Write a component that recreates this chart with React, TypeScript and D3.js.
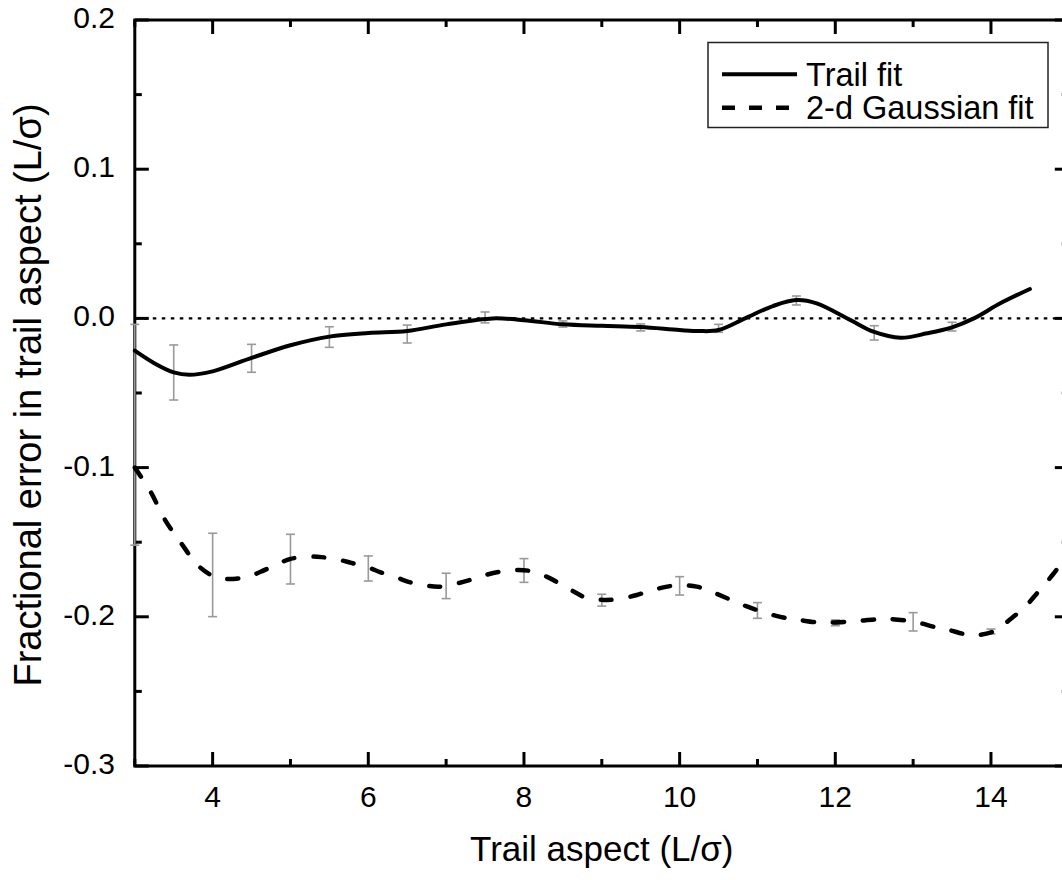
import React, { useRef, useEffect } from 'react'
import * as d3 from 'd3'

// Trail fit curve (solid)
const TRAIL_X = [3.0, 3.25, 3.5, 3.7, 4.0, 4.5, 5.0, 5.5, 6.0, 6.5, 7.0, 7.6, 8.0, 8.5, 9.0, 9.5, 10.0, 10.26, 10.5, 10.84, 11.2, 11.5, 11.76, 12.19, 12.49, 12.84, 13.18, 13.5, 13.78, 14.12, 14.5]
const TRAIL_Y = [-0.0216, -0.030, -0.0362, -0.0378, -0.0355, -0.0265, -0.018, -0.0122, -0.0098, -0.0085, -0.004, 0.0, -0.0012, -0.004, -0.005, -0.0058, -0.0078, -0.0085, -0.0078, 0.0, 0.0083, 0.0123, 0.0101, -0.001, -0.0089, -0.013, -0.010, -0.006, 0.0, 0.0101, 0.0197]

// 2-d Gaussian fit curve (dashed)
const GAUSS_X = [3.0, 3.2, 3.4, 3.6, 3.82, 4.05, 4.2, 4.44, 4.61, 4.82, 5.0, 5.25, 5.4, 5.6, 5.77, 6.0, 6.15, 6.37, 6.54, 6.75, 6.92, 7.14, 7.31, 7.48, 7.69, 7.91, 8.08, 8.29, 8.5, 8.68, 8.81, 9.02, 9.19, 9.45, 9.62, 9.84, 9.99, 10.22, 10.35, 10.61, 10.74, 10.99, 11.12, 11.38, 11.53, 11.76, 11.91, 12.15, 12.28, 12.54, 12.69, 12.92, 13.05, 13.31, 13.46, 13.67, 13.84, 14.08, 14.21, 14.44, 14.59, 14.79, 14.92, 15.0]
const GAUSS_Y = [-0.100, -0.116, -0.136, -0.151, -0.166, -0.1738, -0.1747, -0.1733, -0.170, -0.165, -0.1612, -0.1597, -0.160, -0.1615, -0.1637, -0.167, -0.170, -0.1738, -0.1769, -0.1791, -0.1798, -0.1776, -0.1753, -0.1724, -0.1698, -0.1686, -0.1693, -0.1731, -0.179, -0.1842, -0.1876, -0.1887, -0.1883, -0.1854, -0.1825, -0.1798, -0.1787, -0.1798, -0.182, -0.1876, -0.1906, -0.1954, -0.1977, -0.201, -0.2021, -0.2037, -0.2039, -0.2033, -0.2028, -0.2017, -0.2015, -0.2026, -0.2037, -0.2073, -0.2088, -0.2117, -0.2122, -0.2088, -0.2033, -0.1932, -0.1843, -0.172, -0.163, -0.157]

// error bars
const TRAIL_ERR_X = [3.5, 4.5, 5.5, 6.5, 7.5, 8.5, 9.5, 10.5, 11.5, 12.5, 13.5]
const TRAIL_ERR_HI = [-0.0178, -0.0174, -0.0056, -0.0045, 0.0043, -0.0017, -0.0037, -0.004, 0.015, -0.0049, -0.0026]
const TRAIL_ERR_LO = [-0.0547, -0.0361, -0.0194, -0.0165, -0.003, -0.0058, -0.0084, -0.0093, 0.009, -0.0145, -0.0084]

const GAUSS_ERR_X = [3, 4, 5, 6, 7, 8, 9, 10, 11, 12, 13, 14]
const GAUSS_ERR_HI = [-0.004, -0.144, -0.1447, -0.1592, -0.1708, -0.161, -0.1849, -0.1731, -0.1905, -0.2021, -0.1972, -0.2082]
const GAUSS_ERR_LO = [-0.152, -0.1999, -0.178, -0.176, -0.1878, -0.1769, -0.1928, -0.1854, -0.201, -0.206, -0.2095, -0.2115]

const X_TICKS = [4, 6, 8, 10, 12, 14]
const X_MINOR = [3, 5, 7, 9, 11, 13, 15]
const Y_TICKS = [-0.3, -0.2, -0.1, 0.0, 0.1, 0.2]
const Y_MINOR = [-0.25, -0.15, -0.05, 0.05, 0.15]

const LEGEND = ['Trail fit', '2-d Gaussian fit']
const X_TITLE = 'Trail aspect (L/\u03c3)'
const Y_TITLE = 'Fractional error in trail aspect (L/\u03c3)'

const W = 1062
const H = 880
const FONT = 'Liberation Sans, Arial, sans-serif'

export default function App() {
  const svgRef = useRef<SVGSVGElement>(null)

  useEffect(() => {
    const svg = d3.select(svgRef.current)
    svg.selectAll('*').remove()

    const left = 134.8
    const right = 1068.8
    const top = 20
    const bottom = 766

    const x = d3.scaleLinear().domain([3, 15]).range([left, right])
    const y = d3.scaleLinear().domain([-0.3, 0.2]).range([bottom, top])

    const g = svg.append('g')

    // zero reference line
    g.append('line')
      .attr('x1', x(3)).attr('x2', x(15))
      .attr('y1', y(0)).attr('y2', y(0))
      .attr('stroke', '#000')
      .attr('stroke-width', 2.2)
      .attr('stroke-dasharray', '3.5 5.5')

    // frame
    g.append('rect')
      .attr('x', left).attr('y', top)
      .attr('width', right - left).attr('height', bottom - top)
      .attr('fill', 'none')
      .attr('stroke', '#000')
      .attr('stroke-width', 3)

    const tick = (x1: number, y1: number, x2: number, y2: number) =>
      g.append('line')
        .attr('x1', x1).attr('y1', y1).attr('x2', x2).attr('y2', y2)
        .attr('stroke', '#000').attr('stroke-width', 3)

    X_TICKS.forEach((v) => {
      tick(x(v), bottom, x(v), bottom - 14)
      tick(x(v), top, x(v), top + 14)
    })
    X_MINOR.forEach((v) => {
      tick(x(v), bottom, x(v), bottom - 7)
      tick(x(v), top, x(v), top + 7)
    })
    Y_TICKS.forEach((v) => {
      tick(left, y(v), left + 14, y(v))
      tick(right, y(v), right - 14, y(v))
    })
    Y_MINOR.forEach((v) => {
      tick(left, y(v), left + 7, y(v))
      tick(right, y(v), right - 7, y(v))
    })

    // tick labels
    g.selectAll('.xl').data(X_TICKS).enter().append('text')
      .attr('x', (d) => x(d)).attr('y', 806.5)
      .attr('text-anchor', 'middle')
      .attr('font-family', FONT).attr('font-size', 30)
      .text((d) => String(d))

    g.selectAll('.yl').data(Y_TICKS).enter().append('text')
      .attr('x', 115).attr('y', (d) => y(d) + 8)
      .attr('text-anchor', 'end')
      .attr('font-family', FONT).attr('font-size', 30)
      .text((d) => d.toFixed(1))

    // axis titles
    g.append('text')
      .attr('x', (left + right) / 2).attr('y', 861)
      .attr('text-anchor', 'middle')
      .attr('font-family', FONT).attr('font-size', 35)
      .text(X_TITLE)

    g.append('text')
      .attr('transform', `translate(41,${(top + bottom) / 2 + 2}) rotate(-90)`)
      .attr('text-anchor', 'middle')
      .attr('font-family', FONT).attr('font-size', 38)
      .text(Y_TITLE)

    // error bars (grey)
    const errBar = (xs: number[], hi: number[], lo: number[]) => {
      xs.forEach((xv, i) => {
        const px = x(xv)
        g.append('line')
          .attr('x1', px).attr('x2', px)
          .attr('y1', y(hi[i])).attr('y2', y(lo[i]))
          .attr('stroke', '#999').attr('stroke-width', 1.6)
        ;[hi[i], lo[i]].forEach((v) => {
          g.append('line')
            .attr('x1', px - 4.5).attr('x2', px + 4.5)
            .attr('y1', y(v)).attr('y2', y(v))
            .attr('stroke', '#999').attr('stroke-width', 1.6)
        })
      })
    }
    errBar(TRAIL_ERR_X, TRAIL_ERR_HI, TRAIL_ERR_LO)
    errBar(GAUSS_ERR_X, GAUSS_ERR_HI, GAUSS_ERR_LO)

    const line = d3.line<[number, number]>()
      .x((d) => x(d[0]))
      .y((d) => y(d[1]))
      .curve(d3.curveCatmullRom.alpha(0.5))

    g.append('path')
      .datum(TRAIL_X.map((v, i) => [v, TRAIL_Y[i]] as [number, number]))
      .attr('d', line)
      .attr('fill', 'none')
      .attr('stroke', '#000')
      .attr('stroke-width', 4)
      .attr('stroke-linecap', 'round')

    g.append('path')
      .datum(GAUSS_X.map((v, i) => [v, GAUSS_Y[i]] as [number, number]))
      .attr('d', line)
      .attr('fill', 'none')
      .attr('stroke', '#000')
      .attr('stroke-width', 4.5)
      .attr('stroke-linecap', 'round')
      .attr('stroke-dasharray', '11 19')

    // legend
    const lg = g.append('g')
    lg.append('rect')
      .attr('x', 708).attr('y', 42.5)
      .attr('width', 340).attr('height', 85)
      .attr('fill', '#fff')
      .attr('stroke', '#222')
      .attr('stroke-width', 1.5)

    const rows = [74.3, 107.7]
    LEGEND.forEach((label, i) => {
      lg.append('line')
        .attr('x1', 722).attr('x2', 797)
        .attr('y1', rows[i]).attr('y2', rows[i])
        .attr('stroke', '#000')
        .attr('stroke-width', i === 0 ? 4 : 4.5)
        .attr('stroke-dasharray', i === 0 ? null : '13 14')
      lg.append('text')
        .attr('x', 806).attr('y', rows[i] + 11.5)
        .attr('font-family', FONT).attr('font-size', 32.5)
        .text(label)
    })
  }, [])

  return (
    <div>
      <style>{'body{margin:0}'}</style>
      <svg ref={svgRef} width={W} height={H} style={{ display: 'block', background: '#fff' }} />
    </div>
  )
}
